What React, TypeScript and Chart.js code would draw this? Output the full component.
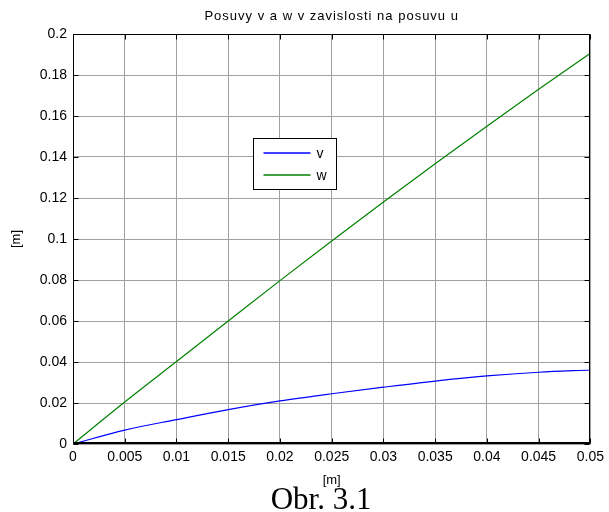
import React, { useEffect, useRef } from 'react';
import { Chart, registerables } from 'chart.js';
Chart.register(...registerables);

const xValues = [0, 0.005, 0.01, 0.015, 0.02, 0.025, 0.03, 0.035, 0.04, 0.045, 0.05];
const vValues = [0, 0.0068, 0.0119, 0.0168, 0.021, 0.0245, 0.0277, 0.0307, 0.0332, 0.035, 0.0361];
const wValues = [0, 0.0205, 0.0402, 0.06, 0.0797, 0.099, 0.118, 0.1367, 0.155, 0.173, 0.1906];
const seriesNames = ['v', 'w'];
const seriesColors = ['#0000ff', '#008000'];
const titleText = 'Posuvy v a w v zavislosti na posuvu u';
const xAxisLabel = '[m]';
const yAxisLabel = '[m]';
const captionText = 'Obr. 3.1';
const xMin = 0, xMax = 0.05, xStep = 0.005;
const yMin = 0, yMax = 0.2, yStep = 0.02;

const FONT = "'Liberation Sans', Arial, Helvetica, sans-serif";
const fmt = (v: number | string) => String(Number(Number(v).toPrecision(6)));

const decorPlugin = {
  id: 'decor',
  afterDraw(chart: any) {
    const ctx = chart.ctx as CanvasRenderingContext2D;
    const { left, right, top, bottom } = chart.chartArea;
    const xs = chart.scales.x;
    const ys = chart.scales.y;
    ctx.save();
    // title
    ctx.fillStyle = '#000';
    ctx.font = `13px ${FONT}`;
    (ctx as any).letterSpacing = '1px';
    ctx.textAlign = 'center';
    ctx.textBaseline = 'middle';
    ctx.fillText(titleText, (left + right) / 2, 16);
    (ctx as any).letterSpacing = '0px';

    // box and inward ticks
    ctx.strokeStyle = '#000';
    ctx.lineWidth = 1;
    const L = Math.round(left) + 0.5;
    const R = Math.round(right) - 0.5;
    const T = Math.round(top) + 0.5;
    const B = Math.round(bottom) - 0.5;
    ctx.beginPath();
    ctx.rect(L, T, R - L, B - T);
    ctx.stroke();
    ctx.lineWidth = 2;
    ctx.beginPath();
    ctx.moveTo(L, Math.round(bottom) - 1);
    ctx.lineTo(R + 0.5, Math.round(bottom) - 1);
    ctx.stroke();
    ctx.lineWidth = 1;
    const tl = 5;
    ctx.beginPath();
    xs.ticks.forEach((t: any) => {
      const px = Math.round(xs.getPixelForValue(t.value)) + 0.5;
      ctx.moveTo(px, B); ctx.lineTo(px, B - tl);
      ctx.moveTo(px, T); ctx.lineTo(px, T + tl);
    });
    ys.ticks.forEach((t: any) => {
      const py = Math.round(ys.getPixelForValue(t.value)) + 0.5;
      ctx.moveTo(L, py); ctx.lineTo(L + tl, py);
      ctx.moveTo(R, py); ctx.lineTo(R - tl, py);
    });
    ctx.stroke();

    // legend
    const w = right - left, h = bottom - top;
    const lx = Math.round(left + w * 0.348) + 0.5;
    const ly = Math.round(top + h * 0.254) + 0.5;
    const lw = 83, lh = 51;
    ctx.fillStyle = '#fff';
    ctx.fillRect(lx, ly, lw, lh);
    ctx.strokeStyle = '#000';
    ctx.lineWidth = 1;
    ctx.strokeRect(lx, ly, lw, lh);
    ctx.font = `14px ${FONT}`;
    ctx.textAlign = 'left';
    ctx.textBaseline = 'middle';
    for (let i = 0; i < seriesNames.length; i++) {
      const yy = Math.round(ly + 14 + i * 22);
      ctx.beginPath();
      ctx.strokeStyle = seriesColors[i];
      ctx.lineWidth = 1.5;
      ctx.moveTo(lx + 10, yy);
      ctx.lineTo(lx + 57, yy);
      ctx.stroke();
      ctx.fillStyle = '#000';
      ctx.fillText(seriesNames[i], lx + 63, yy + 1);
    }
    ctx.restore();
  },
};

export default function App() {
  const ref = useRef<HTMLCanvasElement>(null);
  useEffect(() => {
    if (!ref.current) return;
    const chart = new Chart(ref.current, {
      type: 'line',
      data: {
        datasets: [
          {
            label: seriesNames[0],
            data: xValues.map((x, i) => ({ x, y: vValues[i] })),
            borderColor: seriesColors[0],
            borderWidth: 1.2,
            pointRadius: 0,
            cubicInterpolationMode: 'monotone',
            fill: false,
          },
          {
            label: seriesNames[1],
            data: xValues.map((x, i) => ({ x, y: wValues[i] })),
            borderColor: seriesColors[1],
            borderWidth: 1.2,
            pointRadius: 0,
            cubicInterpolationMode: 'monotone',
            fill: false,
          },
        ],
      },
      options: {
        animation: false,
        responsive: false,
        maintainAspectRatio: false,
        layout: { padding: { top: 34, right: 16, bottom: 24, left: 0 } },
        plugins: { legend: { display: false }, title: { display: false }, tooltip: { enabled: false } },
        scales: {
          x: {
            type: 'linear',
            min: xMin,
            max: xMax,
            ticks: { stepSize: xStep, color: '#000', font: { family: FONT, size: 14 }, padding: 5, maxRotation: 0, autoSkip: false, callback: (v: any) => fmt(v) },
            grid: { color: '#a0a0a0', lineWidth: 1, drawTicks: false },
            border: { display: false },
            title: { display: true, text: xAxisLabel, color: '#000', font: { family: FONT, size: 13 }, padding: { top: 0, bottom: 0 } },
            afterFit: (s: any) => { s.height = 44; },
          },
          y: {
            type: 'linear',
            min: yMin,
            max: yMax,
            ticks: { stepSize: yStep, color: '#000', font: { family: FONT, size: 14 }, padding: 6, autoSkip: false, callback: (v: any) => fmt(v) },
            grid: { color: '#a0a0a0', lineWidth: 1, drawTicks: false },
            border: { display: false },
            title: { display: true, text: yAxisLabel, color: '#000', font: { family: FONT, size: 13 }, padding: { top: 9, bottom: 0 } },
            afterFit: (s: any) => { s.width = 73; },
          },
        },
      },
      plugins: [decorPlugin],
    } as any);
    return () => chart.destroy();
  }, []);
  return (
    <div style={{ position: 'fixed', left: 0, top: 0, width: 609, height: 512, background: '#fff', overflow: 'hidden' }}>
      <canvas ref={ref} width={609} height={512} style={{ position: 'absolute', left: 0, top: 0, width: 609, height: 512 }} />
      <div style={{ position: 'absolute', left: 0, width: 642, top: 483, textAlign: 'center', fontFamily: "'Liberation Serif', 'Times New Roman', serif", fontSize: 31, lineHeight: '31px', color: '#000' }}>
        {captionText}
      </div>
    </div>
  );
}
